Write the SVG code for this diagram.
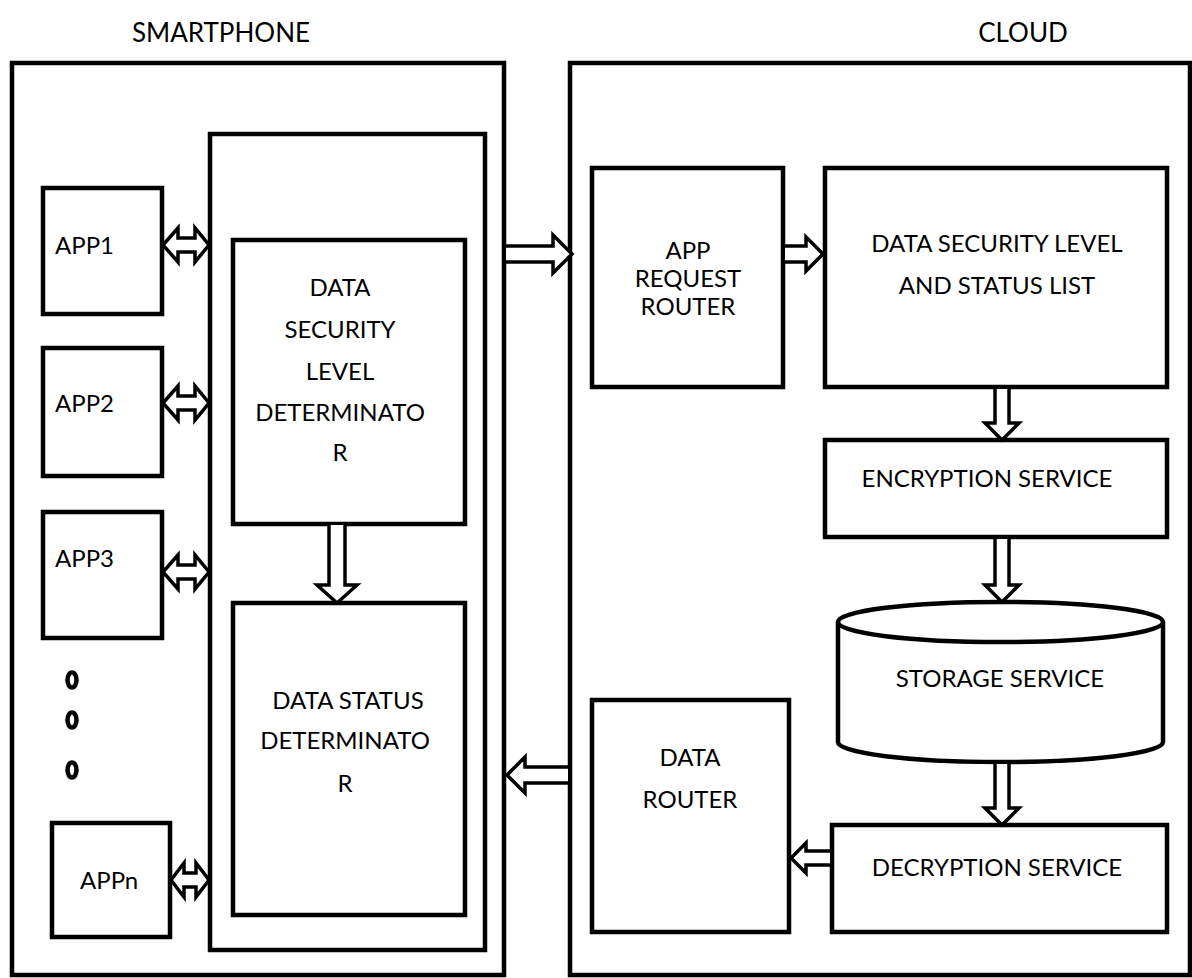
<svg xmlns="http://www.w3.org/2000/svg" width="1192" height="978" viewBox="0 0 1192 978">
<style>
.box{fill:#fff;stroke:#000;stroke-width:4.5}
.arr{fill:#fff;stroke:#000;stroke-width:3.5;stroke-linejoin:miter}
.t{font-family:Lato,"Open Sans","Liberation Sans",sans-serif;font-size:24px;fill:#000}
.title{font-family:Lato,"Open Sans","Liberation Sans",sans-serif;font-size:26px;fill:#000}
.c{text-anchor:middle}
.dot{fill:none;stroke:#000;stroke-width:4.5}
</style>
<rect width="1192" height="978" fill="#fff"/>
<text class="title c" x="221" y="42">SMARTPHONE</text>
<text class="title c" x="1023" y="42">CLOUD</text>

<g id="smartphone"><rect class="box" x="12" y="63" width="492" height="912"/></g>
<g id="cloud"><rect class="box" x="570" y="63" width="620" height="912"/></g>
<g id="phone-core"><rect class="box" x="210" y="134" width="275" height="816"/></g>

<g id="app1"><rect class="box" x="43" y="188" width="119" height="126"/><text class="t" x="55" y="254">APP1</text></g>
<g id="app2"><rect class="box" x="43" y="348" width="119" height="128"/><text class="t" x="55" y="412">APP2</text></g>
<g id="app3"><rect class="box" x="43" y="512" width="119" height="126"/><text class="t" x="55" y="567">APP3</text></g>
<g id="appn"><rect class="box" x="52" y="823" width="118" height="114"/><text class="t" x="80" y="889">APPn</text></g>
<g id="dots">
<ellipse class="dot" cx="72" cy="680" rx="4.5" ry="7.5"/>
<ellipse class="dot" cx="72" cy="720" rx="4.5" ry="7.5"/>
<ellipse class="dot" cx="72" cy="770" rx="4.5" ry="7.5"/>
</g>

<g id="dsld"><rect class="box" x="233" y="240" width="232" height="284"/>
<text class="t c" x="340" y="296">DATA</text>
<text class="t c" x="340" y="338">SECURITY</text>
<text class="t c" x="340" y="380">LEVEL</text>
<text class="t c" x="340" y="421">DETERMINATO</text>
<text class="t c" x="340" y="461">R</text></g>
<g id="dsd"><rect class="box" x="233" y="603" width="232" height="312"/>
<text class="t c" x="348" y="709">DATA STATUS</text>
<text class="t c" x="345" y="749">DETERMINATO</text>
<text class="t c" x="345" y="792">R</text></g>

<g id="arr"><rect class="box" x="592" y="168" width="191" height="219"/>
<text class="t c" x="688" y="259">APP</text>
<text class="t c" x="688" y="287">REQUEST</text>
<text class="t c" x="688" y="315">ROUTER</text></g>
<g id="dslsl"><rect class="box" x="825" y="168" width="342" height="219"/>
<text class="t c" x="997" y="252">DATA SECURITY LEVEL</text>
<text class="t c" x="997" y="294">AND STATUS LIST</text></g>
<g id="enc"><rect class="box" x="825" y="440" width="342" height="97"/>
<text class="t c" x="987" y="487">ENCRYPTION SERVICE</text></g>
<g id="storage">
<path class="box" d="M838,622 L838,742 A162.5,20 0 0 0 1163,742 L1163,622"/>
<ellipse class="box" cx="1000.5" cy="622" rx="162.5" ry="20"/>
<text class="t c" x="1000" y="687">STORAGE SERVICE</text></g>
<g id="drouter"><rect class="box" x="592" y="700" width="197" height="232"/>
<text class="t c" x="690" y="766">DATA</text>
<text class="t c" x="690" y="808">ROUTER</text></g>
<g id="dec"><rect class="box" x="832" y="825" width="335" height="107"/>
<text class="t c" x="997" y="876">DECRYPTION SERVICE</text></g>

<g id="connectors">
<path class="arr" d="M163,245 L178,228 L178,238 L195,238 L195,228 L209,245 L195,262 L195,252 L178,252 L178,262 Z"/>
<path class="arr" d="M163,403 L178,386 L178,396 L195,396 L195,386 L209,403 L195,420 L195,410 L178,410 L178,420 Z"/>
<path class="arr" d="M163,572 L178,555 L178,565 L195,565 L195,555 L209,572 L195,589 L195,579 L178,579 L178,589 Z"/>
<path class="arr" d="M171,880 L184,863 L184,873 L196,873 L196,863 L209,880 L196,897 L196,887 L184,887 L184,897 Z"/>
<path class="arr" d="M329,525 L329,585 L317,585 L337,603 L357,585 L345,585 L345,525"/>
<path class="arr" d="M506,246 L553,246 L553,235 L572,254 L553,273 L553,262 L506,262"/>
<path class="arr" d="M785,246 L806,246 L806,237 L823,254 L806,271 L806,262 L785,262"/>
<path class="arr" d="M995,389 L995,423 L985,423 L1002,440 L1019,423 L1009,423 L1009,389"/>
<path class="arr" d="M995,539 L995,585 L985,585 L1002,602 L1019,585 L1009,585 L1009,539"/>
<path class="arr" d="M995,764 L995,808 L985,808 L1002,825 L1019,808 L1009,808 L1009,764"/>
<path class="arr" d="M568,767 L525,767 L525,757 L507,775 L525,793 L525,783 L568,783"/>
<path class="arr" d="M830,851 L806,851 L806,843 L791,858 L806,873 L806,865 L830,865"/>
</g>
</svg>
